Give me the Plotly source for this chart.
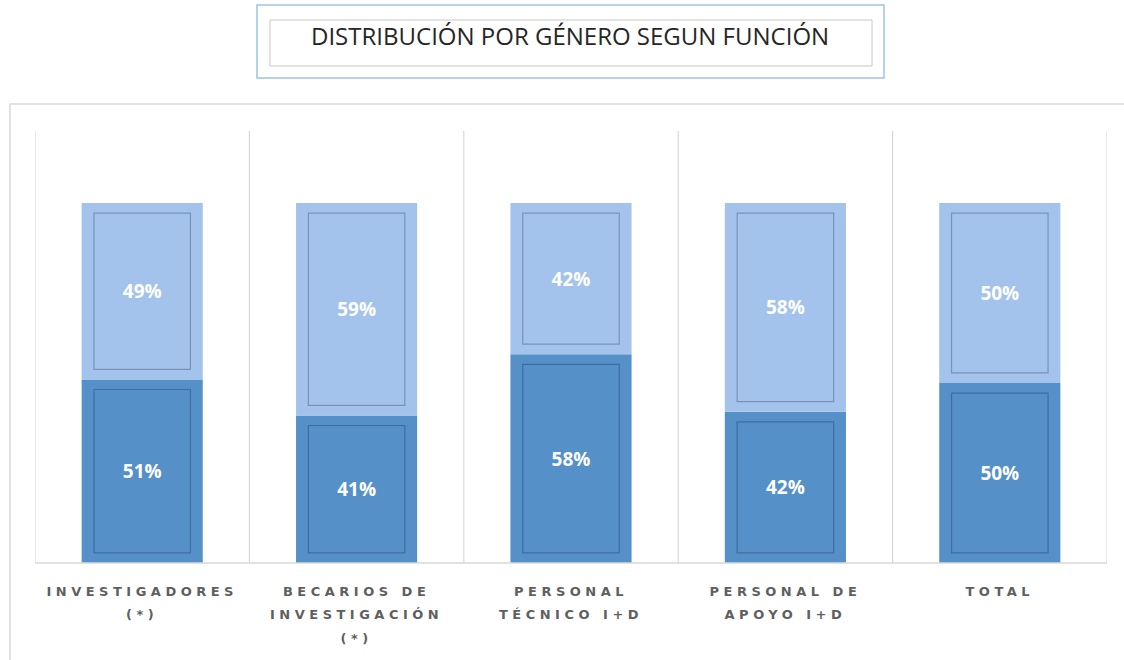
import plotly.graph_objects as go

categories = ["INVESTIGADORES<br>(*)", "BECARIOS DE<br>INVESTIGACIÓN<br>(*)",
              "PERSONAL<br>TÉCNICO I+D", "PERSONAL DE<br>APOYO I+D", "TOTAL"]
serie_inferior = [51, 41, 58, 42, 50]   # tono oscuro
serie_superior = [49, 59, 42, 58, 50]   # tono claro
titulo = "DISTRIBUCIÓN POR GÉNERO SEGUN FUNCIÓN"

DARK = "#5590C9"
LIGHT = "#A4C3EC"
DARK_EDGE = "#3F6E9C"
LIGHT_EDGE = "#7893BA"

inset = 2.8
W_OUT = 0.565
W_IN = 0.45

fig = go.Figure()
fig.add_bar(x=categories, y=serie_inferior, base=[0]*5, width=W_OUT,
            marker=dict(color=DARK, line=dict(width=0)), name="Serie 1",
            hoverinfo="skip")
fig.add_bar(x=categories, y=serie_superior, base=serie_inferior, width=W_OUT,
            marker=dict(color=LIGHT, line=dict(width=0)), name="Serie 2",
            hoverinfo="skip")
fig.add_bar(x=categories, y=[v - 2*inset for v in serie_inferior],
            base=[inset]*5, width=W_IN,
            marker=dict(color=DARK, line=dict(color=DARK_EDGE, width=1.2)),
            text=[f"{v}%" for v in serie_inferior], textposition="inside",
            insidetextanchor="middle", textangle=0,
            textfont=dict(color="white", size=19, family="Open Sans", weight="bold"),
            name="Serie 1", showlegend=False)
fig.add_bar(x=categories, y=[v - 2*inset for v in serie_superior],
            base=[b + inset for b in serie_inferior], width=W_IN,
            marker=dict(color=LIGHT, line=dict(color=LIGHT_EDGE, width=1.2)),
            text=[f"{v}%" for v in serie_superior], textposition="inside",
            insidetextanchor="middle", textangle=0,
            textfont=dict(color="white", size=19, family="Open Sans", weight="bold"),
            name="Serie 2", showlegend=False)

shapes = []
for i in range(len(categories) + 1):
    shapes.append(dict(type="line", xref="x", yref="paper", x0=i - 0.5, x1=i - 0.5,
                       y0=0, y1=1, line=dict(color="#D9D9D9", width=1.2), layer="below"))
shapes.append(dict(type="line", xref="paper", yref="paper", x0=0, x1=1, y0=0, y1=0,
                   line=dict(color="#D9D9D9", width=1.5)))
shapes.append(dict(type="line", xref="paper", yref="paper", x0=-0.0233, x1=1.05,
                   y0=1.0625, y1=1.0625, line=dict(color="#D9D9D9", width=1.5)))
shapes.append(dict(type="line", xref="paper", yref="paper", x0=-0.0233, x1=-0.0233,
                   y0=1.0625, y1=-0.3, line=dict(color="#D9D9D9", width=1.5)))
shapes.append(dict(type="rect", xref="paper", yref="paper", x0=0.2071, x1=0.792,
                   y0=1.1227, y1=1.2917, line=dict(color="#9DC3E6", width=1.5)))
shapes.append(dict(type="rect", xref="paper", yref="paper", x0=0.2192, x1=0.7808,
                   y0=1.1505, y1=1.2569, line=dict(color="#C8C8C8", width=1)))

fig.update_layout(
    width=1124, height=660,
    margin=dict(l=35, r=17, t=131, b=97),
    barmode="overlay",
    showlegend=False,
    plot_bgcolor="white", paper_bgcolor="white",
    shapes=shapes,
    annotations=[dict(text=titulo, xref="paper", yref="paper", x=0.499, y=1.2222,
                      showarrow=False, xanchor="center", yanchor="middle",
                      font=dict(family="Open Sans", size=24, color="#262626"))],
    xaxis=dict(showgrid=False, showline=False, ticks="", zeroline=False,
               range=[-0.5, 4.5], ticklabelstandoff=19,
               tickfont=dict(family="DejaVu Sans", size=13, color="#5F5F5F",
                             weight="bold")),
    yaxis=dict(range=[0, 120], showgrid=False, showticklabels=False, zeroline=False,
               showline=False, ticks=""),
)

post = """
var s = document.createElement('style');
s.innerHTML = 'body { margin: 0; } .xtick text { letter-spacing: 4.5px; }';
document.head.appendChild(s);
document.querySelectorAll('.xtick text tspan.line').forEach(function(t){
  var dy = t.getAttribute('dy');
  if (dy && dy.indexOf('em') > 0) {
    var v = parseFloat(dy);
    t.setAttribute('dy', (v * 1.38) + 'em');
  }
});
"""
fig.write_html("out.html", post_script=post, config={"displayModeBar": False})
